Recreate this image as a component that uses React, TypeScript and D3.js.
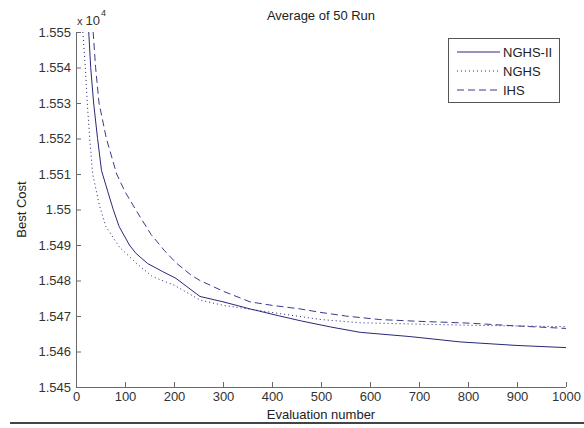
import React, { useEffect, useRef } from 'react';
import * as d3 from 'd3';

const nghs2X = [26, 30, 36, 44, 52, 65, 76, 88, 109, 122, 146, 177, 204, 253, 300, 355, 416, 460, 520, 580, 682, 784, 900, 1000];
const nghs2Y = [15550, 15540, 15530, 15520, 15511, 15505, 15500, 15495.2, 15490, 15487.7, 15484.8, 15482.5, 15480.6, 15475.5, 15474, 15472, 15470, 15468.6, 15466.9, 15465.4, 15464.2, 15462.7, 15461.7, 15461.1];

const nghsX = [14, 19, 23, 28, 34, 48, 61, 88, 122, 156, 200, 253, 300, 400, 500, 580, 700, 800, 900, 1000];
const nghsY = [15550, 15540, 15530, 15520, 15510, 15501, 15495.2, 15489.5, 15485, 15481.1, 15478.7, 15474.5, 15473, 15471, 15469, 15468.1, 15467.7, 15467.4, 15467.2, 15467];

const ihsX = [35, 40, 47, 62, 83, 100, 126, 153, 180, 204, 235, 253, 300, 355, 400, 457, 500, 550, 620, 700, 800, 900, 1000];
const ihsY = [15550, 15540, 15530, 15520, 15510, 15505, 15499, 15493, 15488.5, 15485, 15481.5, 15480, 15477, 15474, 15473, 15472, 15471, 15470, 15469, 15468.5, 15468, 15467.2, 15466.5];

const seriesNames = ['NGHS-II', 'NGHS', 'IHS'];
const xTicks = [0, 100, 200, 300, 400, 500, 600, 700, 800, 900, 1000];
const yTicks = [15450, 15460, 15470, 15480, 15490, 15500, 15510, 15520, 15530, 15540, 15550];

export default function App() {
  const ref = useRef<SVGSVGElement | null>(null);

  useEffect(() => {
    if (!ref.current) return;
    const svg = d3.select(ref.current);
    svg.selectAll('*').remove();

    const W = 584, H = 428;
    const left = 76, right = 566, top = 32, bottom = 387;
    const font = "'Liberation Sans', Arial, sans-serif";
    const axisColor = '#6a6a6a';

    const x = d3.scaleLinear().domain([0, 1000]).range([left, right]);
    const y = d3.scaleLinear().domain([15450, 15550]).range([bottom, top]);

    svg.append('rect').attr('width', W).attr('height', H).attr('fill', '#fff');

    svg.append('defs').append('clipPath').attr('id', 'plotClip')
      .append('rect')
      .attr('x', left).attr('y', top - 1)
      .attr('width', right - left + 1).attr('height', bottom - top + 1);

    const styles = [
      { xs: nghs2X, ys: nghs2Y, color: '#28287a', dash: null },
      { xs: nghsX, ys: nghsY, color: '#1e1e72', dash: '1,3' },
      { xs: ihsX, ys: ihsY, color: '#3a3a8c', dash: '7,4' },
    ];

    const line = d3.line<[number, number]>()
      .x(d => x(d[0]))
      .y(d => y(d[1]));

    const plot = svg.append('g').attr('clip-path', 'url(#plotClip)');
    styles.forEach(s => {
      const pts = s.xs.map((v, i) => [v, s.ys[i]] as [number, number]);
      const p = plot.append('path')
        .datum(pts)
        .attr('fill', 'none')
        .attr('stroke', s.color)
        .attr('stroke-width', 1)
        .attr('d', line);
      if (s.dash) p.attr('stroke-dasharray', s.dash);
    });

    // x axis, ticks pointing inward
    const xAxis = d3.axisBottom(x).tickValues(xTicks).tickSize(-5).tickPadding(5)
      .tickFormat(d => String(d));
    svg.append('g')
      .attr('transform', `translate(0,${bottom})`)
      .call(xAxis)
      .call(g => g.select('.domain').attr('stroke', axisColor).attr('d', `M${left},0.5H${right}`))
      .call(g => g.selectAll('.tick line').attr('stroke', axisColor))
      .call(g => g.selectAll('text')
        .attr('fill', '#333')
        .attr('font-size', '13px')
        .attr('font-family', font));

    const yAxis = d3.axisLeft(y).tickValues(yTicks).tickSize(-5).tickPadding(5)
      .tickFormat(d => String(+((d as number) / 1e4).toFixed(3)));
    svg.append('g')
      .attr('transform', `translate(${left},0)`)
      .call(yAxis)
      .call(g => g.select('.domain').attr('stroke', axisColor).attr('d', `M0.5,${top}V${bottom}`))
      .call(g => g.selectAll('.tick line').attr('stroke', axisColor))
      .call(g => g.selectAll('text')
        .attr('fill', '#333')
        .attr('font-size', '13px')
        .attr('font-family', font));

    // exponent label
    const expo = svg.append('text')
      .attr('x', 77).attr('y', 25)
      .attr('font-family', font).attr('fill', '#333');
    expo.append('tspan').attr('font-size', '11px').text('x ');
    expo.append('tspan').attr('font-size', '13px').text('10');
    svg.append('text')
      .attr('x', 101).attr('y', 16)
      .attr('font-family', font).attr('font-size', '9px').attr('fill', '#333')
      .text('4');

    // title and axis labels
    svg.append('text')
      .attr('x', (left + right) / 2).attr('y', 20)
      .attr('text-anchor', 'middle')
      .attr('font-family', font).attr('font-size', '13px').attr('fill', '#222')
      .text('Average of 50 Run');

    svg.append('text')
      .attr('x', (left + right) / 2).attr('y', 419)
      .attr('text-anchor', 'middle')
      .attr('font-family', font).attr('font-size', '13px').attr('fill', '#222')
      .text('Evaluation number');

    svg.append('text')
      .attr('transform', `translate(26,${(top + bottom) / 2}) rotate(-90)`)
      .attr('text-anchor', 'middle')
      .attr('font-family', font).attr('font-size', '13px').attr('fill', '#222')
      .text('Best Cost');

    // legend
    const lg = svg.append('g');
    lg.append('rect')
      .attr('x', 448.5).attr('y', 38.5).attr('width', 111).attr('height', 64)
      .attr('fill', '#fff').attr('stroke', '#555');
    styles.forEach((s, i) => {
      const ly = 52 + i * 19;
      const l = lg.append('line')
        .attr('x1', 457).attr('x2', 500).attr('y1', ly).attr('y2', ly)
        .attr('stroke', s.color).attr('stroke-width', 1);
      if (s.dash) l.attr('stroke-dasharray', s.dash);
      lg.append('text')
        .attr('x', 503).attr('y', ly + 5)
        .attr('font-family', font).attr('font-size', '13px').attr('fill', '#222')
        .text(seriesNames[i]);
    });

    // rule below the figure
    svg.append('line')
      .attr('x1', 10).attr('x2', W).attr('y1', 423).attr('y2', 423)
      .attr('stroke', '#444').attr('stroke-width', 2);
  }, []);

  return (
    <div style={{ position: 'absolute', left: 0, top: 0 }}>
      <svg ref={ref} width={584} height={428} />
    </div>
  );
}
